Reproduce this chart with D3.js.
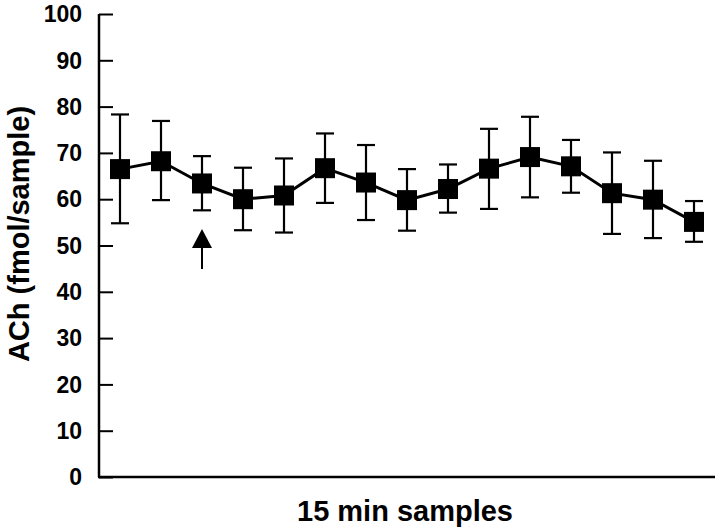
<!DOCTYPE html>
<html>
<head>
<meta charset="utf-8">
<script src="https://cdn.jsdelivr.net/npm/d3@7"></script>
<style>
  body { margin: 0; background: #fff; }
  text { font-family: "Liberation Sans", Arial, sans-serif; font-weight: bold; fill: #000; }
</style>
</head>
<body>
<script>
// data
var samples = [1, 2, 3, 4, 5, 6, 7, 8, 9, 10, 11, 12, 13, 14, 15];
var ach     = [66.5, 68.2, 63.4, 60.0, 60.8, 66.7, 63.6, 59.8, 62.2, 66.6, 69.1, 67.1, 61.3, 59.9, 55.1];
var errHi   = [78.3, 76.9, 69.3, 66.8, 68.8, 74.2, 71.7, 66.5, 67.5, 75.2, 77.8, 72.8, 70.1, 68.3, 59.6];
var errLo   = [54.8, 59.8, 57.6, 53.3, 52.8, 59.2, 55.5, 53.2, 57.1, 57.9, 60.4, 61.4, 52.5, 51.6, 50.8];
var yTicks  = [0, 10, 20, 30, 40, 50, 60, 70, 80, 90, 100];
var arrowAt = 3;

var svg = d3.select("body").append("svg").attr("width", 720).attr("height", 532);

var x = d3.scaleLinear().domain([1, 15]).range([120, 694]);
var y = d3.scaleLinear().domain([0, 100]).range([477, 14]);

// y axis, ticks point inward
var yAxis = svg.append("g")
          .attr("transform", "translate(99,0)")
          .call(d3.axisRight(y).tickValues(yTicks).tickSize(14).tickFormat(""));
yAxis.select(".domain").attr("d", "M0," + y(100) + "V" + y(0)).attr("stroke-width", 2.5);
yAxis.selectAll(".tick line").attr("stroke-width", 2);

svg.append("g").selectAll("text")
          .data(yTicks)
          .join("text")
          .attr("x", 82)
          .attr("y", d => y(d))
          .attr("dy", "0.36em")
          .attr("text-anchor", "end")
          .attr("font-size", 23)
          .text(d => d);

// x axis, no ticks
svg.append("line")
          .attr("x1", 98).attr("x2", 715)
          .attr("y1", y(0)).attr("y2", y(0))
          .attr("stroke", "#000").attr("stroke-width", 2.5);

// axis titles
svg.append("text")
          .attr("transform", "translate(29,234) rotate(-90)")
          .attr("text-anchor", "middle")
          .attr("font-size", 29)
          .text("ACh (fmol/sample)");

svg.append("text")
          .attr("x", 405).attr("y", 521)
          .attr("text-anchor", "middle")
          .attr("font-size", 29)
          .text("15 min samples");

// error bars
var bars = svg.append("g").attr("stroke", "#000").attr("stroke-width", 2.2);
samples.forEach(function(s, i) {
  bars.append("line").attr("x1", x(s)).attr("x2", x(s)).attr("y1", y(errHi[i])).attr("y2", y(errLo[i]));
  bars.append("line").attr("x1", x(s) - 9).attr("x2", x(s) + 9).attr("y1", y(errHi[i])).attr("y2", y(errHi[i]));
  bars.append("line").attr("x1", x(s) - 9).attr("x2", x(s) + 9).attr("y1", y(errLo[i])).attr("y2", y(errLo[i]));
});

// connecting line
svg.append("path")
          .datum(samples)
          .attr("fill", "none")
          .attr("stroke", "#000")
          .attr("stroke-width", 3)
          .attr("d", d3.line().x(d => x(d)).y((d, i) => y(ach[i])));

// square markers
svg.append("g").selectAll("rect")
          .data(samples)
          .join("rect")
          .attr("x", d => x(d) - 10)
          .attr("y", (d, i) => y(ach[i]) - 10)
          .attr("width", 20)
          .attr("height", 20)
          .attr("fill", "#000");

// arrow under sample 3
var ax = x(arrowAt);
svg.append("line")
          .attr("x1", ax).attr("x2", ax)
          .attr("y1", 246).attr("y2", 269)
          .attr("stroke", "#000").attr("stroke-width", 2);
svg.append("path")
          .attr("d", "M" + ax + ",229L" + (ax + 10) + ",248L" + (ax - 10) + ",248Z")
          .attr("fill", "#000");
</script>
</body>
</html>
